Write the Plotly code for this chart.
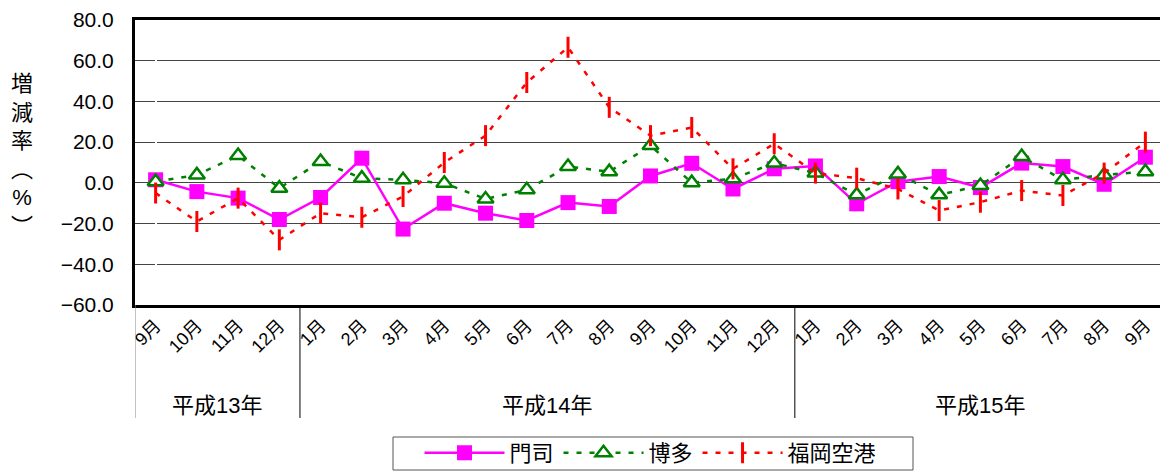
import plotly.graph_objects as go

months = ["9月", "10月", "11月", "12月",
          "1月", "2月", "3月", "4月", "5月", "6月", "7月", "8月", "9月", "10月", "11月", "12月",
          "1月", "2月", "3月", "4月", "5月", "6月", "7月", "8月", "9月"]
years = ["平成13年", "平成14年", "平成15年"]
year_counts = [4, 12, 9]
ylabel = "増<br>減<br>率<br>︵<br>%<br>︶"

moji = [1.5, -4.3, -7.5, -18.0,
        -7.2, 12.1, -22.7, -10.0, -14.9, -18.5, -9.7, -11.6, 3.4, 9.6, -3.0, 6.9,
        8.3, -10.3, 0.6, 3.1, -2.3, 9.7, 8.0, -0.7, 12.6]
hakata = [0.6, 3.9, 13.4, -2.6,
          10.5, 2.3, 1.5, -0.2, -7.9, -3.4, 8.0, 5.5, 18.3, 0.1, 2.0, 9.7,
          4.8, -5.9, 4.4, -5.9, -1.3, 12.9, 1.5, 3.9, 5.5]
fukuoka = [-5.0, -19.0, -7.5, -28.0,
           -14.9, -16.9, -6.7, 10.0, 23.2, 49.3, 66.6, 37.1, 23.2, 27.2, 6.9, 19.2,
           4.8, 2.3, -3.0, -13.6, -9.5, -3.8, -6.2, 4.8, 20.0]

x = list(range(len(months)))
FONT = "Liberation Sans, Noto Sans CJK JP, sans-serif"
OFF = 8  # page body offset
FIG_W, FIG_H = 1168 - OFF, 472 - OFF
PLOT_H = 285.0
PLOT_W = 1031.0

fig = go.Figure()
fig.add_trace(go.Scatter(
    x=x, y=moji, name="門司", mode="lines+markers",
    line=dict(color="#FF00FF", width=2.5),
    marker=dict(symbol="square", size=15, color="#FF00FF")))
fig.add_trace(go.Scatter(
    x=x, y=hakata, name="博多", mode="lines+markers",
    line=dict(color="#008000", width=2.5, dash="5px,8px"),
    marker=dict(symbol="triangle-up", size=14, color="white",
                line=dict(color="#008000", width=2.5))))
fig.add_trace(go.Scatter(
    x=x, y=fukuoka, name="福岡空港", mode="lines+markers",
    line=dict(color="#FF0000", width=2.5, dash="5px,8px"),
    marker=dict(symbol="line-ns", size=15, color="#FF0000",
                line=dict(color="#FF0000", width=3))))

# group dividers below the axis
bounds = [-0.5]
for c in year_counts:
    bounds.append(bounds[-1] + c)
for k, b in enumerate(bounds):
    fig.add_shape(type="line", xref="x", yref="paper", x0=b, x1=b, y0=0, y1=-113 / PLOT_H,
                  line=dict(color="#888888" if k == 0 else "#000000", width=1))
for i, yr in enumerate(years):
    cx = (bounds[i] + bounds[i + 1]) / 2
    fig.add_annotation(x=cx, y=-100 / PLOT_H, xref="x", yref="paper", text=yr, showarrow=False,
                       font=dict(size=22, family=FONT, color="#000"), yanchor="middle")

# vertical y-axis title
fig.add_annotation(x=-113 / PLOT_W, y=(305 - 155) / PLOT_H, xref="paper", yref="paper",
                   xanchor="center", yanchor="middle", showarrow=False, text=ylabel,
                   font=dict(size=22, family=FONT, color="#000"))

# legend frame
fig.add_shape(type="rect", xref="paper", yref="paper",
              x0=(393 - 135) / PLOT_W, x1=(913 - 135) / PLOT_W,
              y0=(305 - 470) / PLOT_H, y1=(305 - 437) / PLOT_H,
              line=dict(color="#555555", width=1), fillcolor="rgba(0,0,0,0)")

fig.update_xaxes(tickmode="array", tickvals=x, ticktext=months, tickangle=-45,
                 automargin=False, range=[-0.5, len(months) - 0.5], showgrid=False,
                 showline=True, linecolor="#000", linewidth=3, mirror=True, ticks="",
                 tickfont=dict(size=18, family=FONT, color="#000"))
fig.update_yaxes(range=[-60, 80], dtick=20, tickformat=".1f", automargin=False,
                 showgrid=True, gridcolor="#444444", gridwidth=1,
                 showline=True, linecolor="#000", linewidth=3, mirror=True,
                 zeroline=False, ticks="", ticklabelstandoff=14,
                 tickfont=dict(size=21, family=FONT, color="#000"))

fig.update_layout(
    width=FIG_W, height=FIG_H,
    margin=dict(l=135 - OFF, r=2, t=20 - OFF, b=167),
    paper_bgcolor="white", plot_bgcolor="white",
    font=dict(family=FONT, color="#000"),
    showlegend=True,
    legend=dict(orientation="h", x=0.5, xanchor="center",
                yref="container", y=1 - (453 - OFF) / FIG_H, yanchor="middle",
                bgcolor="rgba(0,0,0,0)", borderwidth=0,
                font=dict(size=22, family=FONT),
                itemwidth=80, tracegroupgap=0),
)

fig.write_html("out.html")
